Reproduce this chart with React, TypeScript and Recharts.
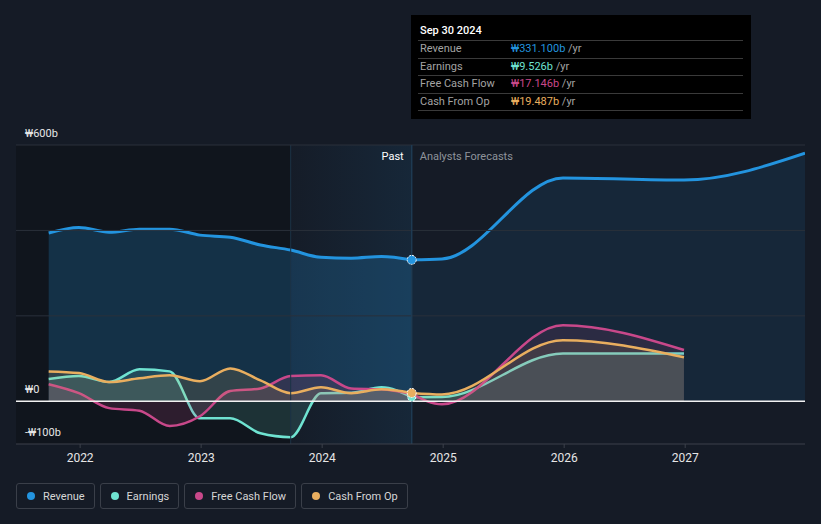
import React from "react";
import {
  ComposedChart,
  Area,
  XAxis,
  YAxis,
  ReferenceLine,
  ReferenceArea,
  ReferenceDot,
} from "recharts";

// ---- data (values in ₩ billions) ----
const pastDates = [2021.74, 2021.99, 2022.24, 2022.49, 2022.74, 2022.99, 2023.24, 2023.49, 2023.74, 2023.99, 2024.24, 2024.49, 2024.74];
const revenuePast = [394, 407, 396, 403, 403, 389, 384, 366, 354, 337, 335, 339, 331.1];
const earningsPast = [52, 59, 45, 75, 70, -40, -40, -75, -84, 19, 20, 33, 9.526];
const fcfPast = [40, 19, -16, -22, -58, -35, 24, 30, 59, 61, 30, 28, 17.146];
const cfoPast = [70, 66, 45, 54, 61, 47, 77, 49, 19, 33, 19, 28, 19.487];

const revenueForecastDates = [2024.74, 2024.99, 2025.99, 2026.99, 2027.99];
const revenueForecast = [331.1, 333, 523, 518, 581];
const forecastDates = [2024.74, 2024.99, 2025.99, 2026.99];
const earningsForecast = [9.526, 10, 112, 112];
const fcfForecast = [17.146, -7, 178, 120];
const cfoForecast = [19.487, 16, 143, 103];

const xTicks = [2022, 2023, 2024, 2025, 2026, 2027];
const yTicks = [-100, 0, 600];
const yTickLabels = ["-₩100b", "₩0", "₩600b"];
const gridValues = [200, 400, 600];

const seriesNames = ["Revenue", "Earnings", "Free Cash Flow", "Cash From Op"];
const tooltipValues = ["₩331.100b", "₩9.526b", "₩17.146b", "₩19.487b"];
const tooltipDate = "Sep 30 2024";

const COLORS = {
  revenue: "#2394df",
  earnings: "#6fe3d1",
  fcf: "#c8488a",
  cfo: "#e9ae5f",
};
const colorList = [COLORS.revenue, COLORS.earnings, COLORS.fcf, COLORS.cfo];

const X_MIN = 2021.47;
const X_MAX = 2027.99;
const NOW = 2024.74;
const BAND_START = 2023.74;

const rows = (dates: number[], vals: number[]) => dates.map((t, i) => ({ t, v: vals[i] }));

const FONT = "Roboto, 'Noto Sans', sans-serif";

const makeYLabel = (text: string) => (props: any) => {
  const { viewBox } = props;
  return (
    <text x={25} y={viewBox.y - 8} fill="#e6e6e6" fontSize={11} fontFamily={FONT}>
      {text}
    </text>
  );
};

const NowLabel = (props: any) => {
  const { viewBox } = props;
  const x = viewBox.x;
  const y = viewBox.y;
  return (
    <g fontFamily={FONT} fontSize={11}>
      <text x={x - 8} y={y + 15} textAnchor="end" fill="#ffffff">Past</text>
      <text x={x + 8} y={y + 15} textAnchor="start" fill="#8e939b">Analysts Forecasts</text>
    </g>
  );
};

function series(key: string, data: any[], color: string, fillOpacity: number, width = 2.5) {
  return (
    <Area
      key={key}
      data={data}
      dataKey="v"
      type="monotone"
      stroke={color}
      strokeWidth={width}
      fill={color}
      fillOpacity={fillOpacity}
      baseValue={0}
      dot={false}
      activeDot={false}
      isAnimationActive={false}
    />
  );
}

export default function App() {
  return (
    <div
      style={{
        position: "absolute",
        left: 0,
        top: 0,
        width: 821,
        height: 524,
        background: "#151b26",
        fontFamily: FONT,
        overflow: "hidden",
      }}
    >
      <ComposedChart width={821} height={524} margin={{ top: 145, right: 16, left: 16, bottom: 50 }}>
        <defs>
          <linearGradient id="pastBand" x1="0" y1="0" x2="1" y2="0">
            <stop offset="0%" stopColor="#2394df" stopOpacity={0.02} />
            <stop offset="100%" stopColor="#2394df" stopOpacity={0.2} />
          </linearGradient>
        </defs>
        <XAxis
          dataKey="t"
          type="number"
          domain={[X_MIN, X_MAX]}
          ticks={xTicks}
          allowDataOverflow
          height={30}
          tick={{ fill: "#e6e6e6", fontSize: 12, fontFamily: FONT }}
          tickFormatter={(v: number) => String(v)}
          axisLine={{ stroke: "#3c414a" }}
          tickLine={{ stroke: "#3c414a" }}
          tickSize={4}
          tickMargin={5}
        />
        <YAxis type="number" domain={[-100, 600]} ticks={yTicks} allowDataOverflow width={0} hide />
        <ReferenceArea x1={X_MIN} x2={BAND_START} y1={-100} y2={600} fill="#0c0f15" fillOpacity={0.45} stroke="none" />
        <ReferenceArea x1={BAND_START} x2={NOW} y1={-100} y2={600} fill="url(#pastBand)" stroke="none" />
        <ReferenceLine x={BAND_START} stroke="#1c3346" strokeWidth={1} />
        {gridValues.map((g) => (
          <ReferenceLine key={g} y={g} stroke="#2a303a" strokeWidth={1} />
        ))}

        {series("revP", rows(pastDates, revenuePast), COLORS.revenue, 0.22, 3)}
        {series("revF", rows(revenueForecastDates, revenueForecast), COLORS.revenue, 0.1, 3)}

        {series("earnP", rows(pastDates, earningsPast), COLORS.earnings, 0.14)}
        {series("fcfP", rows(pastDates, fcfPast), COLORS.fcf, 0.16)}
        {series("cfoP", rows(pastDates, cfoPast), COLORS.cfo, 0.14)}

        {series("earnF", rows(forecastDates, earningsForecast), COLORS.earnings, 0.14)}
        {series("fcfF", rows(forecastDates, fcfForecast), COLORS.fcf, 0.12)}
        {series("cfoF", rows(forecastDates, cfoForecast), COLORS.cfo, 0.12)}

        <ReferenceLine y={0} stroke="#f2f2f2" strokeWidth={1.5} />
        {yTicks.map((v, i) => (
          <ReferenceLine key={"yl" + v} y={v} stroke="none" label={makeYLabel(yTickLabels[i])} />
        ))}
        <ReferenceLine x={NOW} stroke="#1e3a52" strokeWidth={1.5} label={<NowLabel />} />

        <ReferenceDot x={NOW} y={earningsPast[earningsPast.length - 1]} r={4} fill={COLORS.earnings} stroke="#ffffff" strokeWidth={1} strokeDasharray="2 1" />
        <ReferenceDot x={NOW} y={cfoPast[cfoPast.length - 1]} r={4.5} fill={COLORS.cfo} stroke="#ffffff" strokeWidth={1} strokeDasharray="2 1" />
        <ReferenceDot x={NOW} y={revenuePast[revenuePast.length - 1]} r={4.5} fill={COLORS.revenue} stroke="#ffffff" strokeWidth={1} strokeDasharray="2 1" />
      </ComposedChart>

      {/* tooltip box */}
      <div
        style={{
          position: "absolute",
          left: 411,
          top: 15,
          width: 340,
          height: 104,
          background: "#000000",
          boxSizing: "border-box",
          padding: "7px 8px 0 7px",
        }}
      >
        <div
          style={{
            color: "#ffffff",
            fontSize: 11,
            fontWeight: 500,
            height: 19,
            lineHeight: "17px",
            boxSizing: "border-box",
            borderBottom: "1px solid #3a3a3a",
            paddingLeft: 2,
          }}
        >
          {tooltipDate}
        </div>
        {seriesNames.map((n, i) => (
          <div
            key={n}
            style={{
              display: "flex",
              height: 17.5,
              boxSizing: "border-box",
              lineHeight: "16px",
              fontSize: 11,
              borderBottom: "1px solid #3a3a3a",
              paddingLeft: 2,
            }}
          >
            <span style={{ width: 91, color: "#a3a3a3" }}>{n}</span>
            <span style={{ color: colorList[i] }}>{tooltipValues[i]}</span>
            <span style={{ color: "#a3a3a3" }}>&nbsp;/yr</span>
          </div>
        ))}
      </div>

      {/* legend */}
      <div style={{ position: "absolute", left: 16, top: 483, display: "flex", gap: 5 }}>
        {seriesNames.map((n, i) => (
          <div
            key={n}
            style={{
              height: 26,
              boxSizing: "border-box",
              border: "1px solid #3a3f49",
              borderRadius: 3,
              display: "flex",
              alignItems: "center",
              padding: "0 9px 0 10px",
              color: "#d6d6d6",
              fontSize: 11,
            }}
          >
            <span
              style={{
                width: 8,
                height: 8,
                borderRadius: 4,
                background: colorList[i],
                display: "inline-block",
                marginRight: 8,
              }}
            />
            {n}
          </div>
        ))}
      </div>
    </div>
  );
}
